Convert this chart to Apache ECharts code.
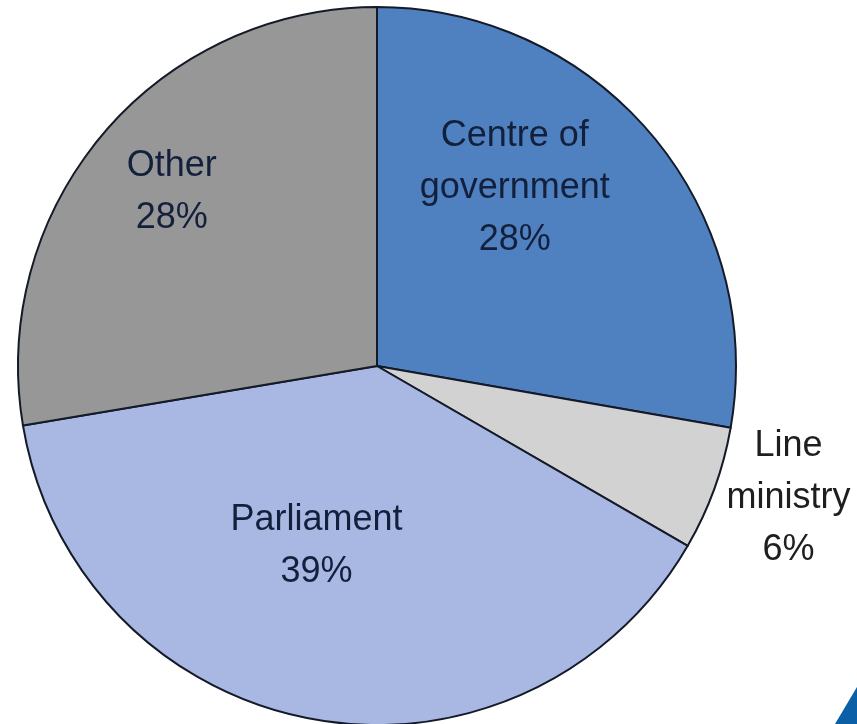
<!DOCTYPE html>
<html>
<head>
<meta charset="utf-8">
<script src="https://cdn.jsdelivr.net/npm/echarts@6/dist/echarts.min.js"></script>
<style>
  html, body { margin: 0; padding: 0; background: #fff; }
  #chart { width: 857px; height: 724px; }
</style>
</head>
<body>
<div id="chart"></div>
<script>
// slices, clockwise from 12 o'clock
const categories = ['Centre of\ngovernment', 'Line\nministry', 'Parliament', 'Other'];
const shares = [27.75, 5.6, 39.0, 27.65];
const sliceColors = ['#4f80c0', '#d2d2d2', '#a8b8e3', '#979797'];
// label nudges from the default inside spot
const labelShift = [[-2, -60], [240, 70], [-28, 0], [-66, -56]];

var myChart = echarts.init(document.getElementById('chart'));
var option = {
  animation: false,
  graphic: [
    {
      // corner decoration of the slide
      type: 'polygon',
      shape: { points: [[835, 724], [857, 687], [857, 724]] },
      style: { fill: '#0b5fa6' }
    }
  ],
  series: [
    {
      type: 'pie',
      center: [377, 366],
      radius: 359,
      startAngle: 90,
      clockwise: true,
      avoidLabelOverlap: false,
      emphasis: { disabled: true },
      itemStyle: { borderColor: '#141a28', borderWidth: 2 },
      label: {
        show: true,
        position: 'inside',
        fontFamily: 'Liberation Sans, Arial, sans-serif',
        fontSize: 36,
        lineHeight: 52,
        color: '#13203c',
        align: 'center',
        formatter: function (p) {
          return p.name + '\n' + Math.round(p.percent) + '%';
        }
      },
      labelLine: { show: false },
      labelLayout: function (p) {
        var s = labelShift[p.dataIndex];
        return { dx: s[0], dy: s[1] };
      },
      data: categories.map(function (name, i) {
        var item = {
          name: name,
          value: shares[i],
          itemStyle: { color: sliceColors[i] }
        };
        if (i === 1) item.label = { color: '#1e1e1e' };
        return item;
      })
    }
  ]
};
option && myChart.setOption(option);
</script>
</body>
</html>
